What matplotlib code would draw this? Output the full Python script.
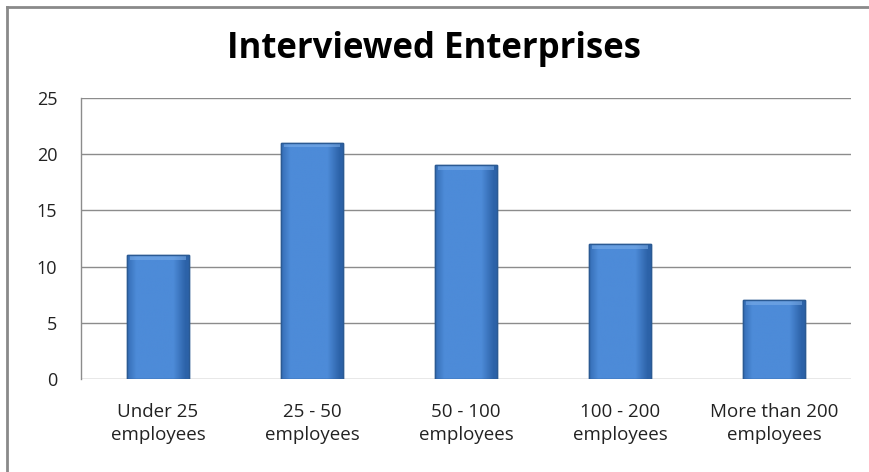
import matplotlib
matplotlib.use("Agg")
import matplotlib.pyplot as plt
import numpy as np
from matplotlib.patches import Rectangle
from matplotlib.lines import Line2D

categories = ["Under 25\nemployees", "25 - 50\nemployees", "50 - 100\nemployees",
              "100 - 200\nemployees", "More than 200\nemployees"]
values = [11, 21, 19, 12, 7]
yticks = [0, 5, 10, 15, 20, 25]
title = "Interviewed Enterprises"

plt.rcParams['font.family'] = ['Open Sans', 'DejaVu Sans']

W, H = 869, 472
fig = plt.figure(figsize=(W / 100, H / 100), dpi=100)
fig.patch.set_facecolor("white")

left, right, top, bottom = 81, 851, 98, 379
ax = fig.add_axes([left / W, 1 - bottom / H, (right - left) / W, (bottom - top) / H])
ax.set_xlim(-0.5, len(values) - 0.5)
ax.set_ylim(0, 25)
ax.set_yticks(yticks)
ax.set_yticklabels([str(t) for t in yticks], fontsize=13, color="#222222")
ax.set_xticks(range(len(values)))
ax.set_xticklabels(categories, fontsize=13.5, color="#222222", linespacing=1.35)
ax.tick_params(axis="both", length=0)
ax.tick_params(axis="y", pad=17)
ax.tick_params(axis="x", pad=17)
for s in ["top", "right", "bottom"]:
    ax.spines[s].set_visible(False)
ax.spines["left"].set_color("#8c8c8c")
ax.spines["left"].set_linewidth(1.0)
ax.yaxis.grid(True, color="#8c8c8c", linewidth=1.0)
ax.set_axisbelow(True)

grad = np.linspace(0, 1, 256)
c_light = np.array([0x4d, 0x8b, 0xd8]) / 255
c_dark = np.array([0x2c, 0x62, 0xa8]) / 255
prof = np.clip(1 - np.maximum(0, np.abs(grad - 0.45) - 0.3) * 5.0, 0, 1)
img = (c_dark[None, :] + (c_light - c_dark)[None, :] * prof[:, None])[None, :, :]

bw = 0.4
bars = ax.bar(range(len(values)), values, width=bw, color="#3f7cc8",
              edgecolor="#2b5a93", linewidth=1.0, zorder=2)
for b in bars:
    x0, y0 = b.get_x(), b.get_y()
    w, h = b.get_width(), b.get_height()
    im = ax.imshow(img, extent=[x0, x0 + w, y0, y0 + h], aspect="auto",
                   zorder=2.5, interpolation="bilinear")
    im.set_clip_path(b)
    ax.add_patch(Rectangle((x0 + w * 0.05, y0 + h - 0.4), w * 0.9, 0.4, facecolor="#7fb0ea",
                           edgecolor="none", alpha=0.55, zorder=2.6))
    ax.add_patch(Rectangle((x0, y0), w, h, facecolor="none",
                           edgecolor="#2b5a93", linewidth=1.0, zorder=2.7))

fig.text(434 / W, 1 - 49 / H, title, fontsize=25, fontweight="bold",
         ha="center", va="center", color="black")

fig.add_artist(Line2D([7 / W, 1], [1 - 7 / H, 1 - 7 / H], color="#8a8a8a",
                      linewidth=2, transform=fig.transFigure))
fig.add_artist(Line2D([7 / W, 7 / W], [0, 1 - 7 / H], color="#8a8a8a",
                      linewidth=2, transform=fig.transFigure))

fig.savefig("out.png", dpi=100, facecolor="white")
